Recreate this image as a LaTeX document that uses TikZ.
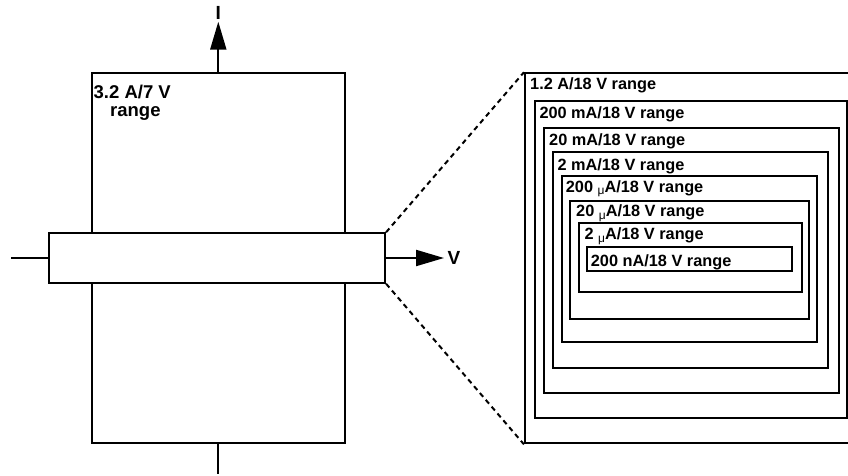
\documentclass[tikz,border=0pt]{standalone}
\usepackage{fontspec}
\setmainfont{Liberation Sans}
\usetikzlibrary{arrows.meta}
\newcommand{\mysmallmu}{\raisebox{-2.5pt}{\fontsize{12}{12}\selectfont\mdseries μ}}
\tikzset{
  box/.style={draw, line width=2.1pt, rectangle, inner sep=0pt, fill=white},
  rlabel/.style={anchor=base west, inner sep=0pt, font=\fontsize{16.3}{16}\selectfont\bfseries},
  llabel/.style={anchor=base west, inner sep=0pt, font=\fontsize{18.5}{20}\selectfont\bfseries},
  axislabel/.style={inner sep=0pt, font=\fontsize{19}{19}\selectfont\bfseries},
  wire/.style={line width=2.1pt},
  arrowwire/.style={line width=2.1pt, -{Triangle[length=28pt,width=16pt]}},
  zoomline/.style={line width=2pt, dash pattern=on 5pt off 4pt}
}
\begin{document}
\begin{tikzpicture}[x=1pt,y=-1pt]
\useasboundingbox (0,0) rectangle (848,476);
\clip (0,0) rectangle (848,476);
% left drawing
\node[box, minimum width=253.3pt, minimum height=370.6pt] (main) at (218.3,258) {};
\node[box, minimum width=335.7pt, minimum height=49.4pt] (bar) at (217.2,258) {};
\node[llabel] (mainlab1) at (93.5,98.5) {3.2 A/7 V};
\node[llabel] (mainlab2) at (110,117) {range};
\coordinate (lin) at (11,258);
\coordinate (itip) at (218.3,21.7);
\coordinate (vtip) at (444,258);
\coordinate (bot) at (218.3,474);
\node[axislabel, anchor=base] (ilab) at (218.3,20) {I};
\node[axislabel, anchor=base west] (vlab) at (447.5,264) {V};
\draw[wire] (lin) -- (bar.west);
\draw[wire] (main.south) -- (bot);
\draw[arrowwire] (main.north) -- (itip);
\draw[arrowwire] (bar.east) -- (vtip);
% right nested ranges
\node[box, minimum width=335pt, minimum height=370pt] (b1) at (692.5,258.3) {};
\node[box, minimum width=311.7pt, minimum height=317.6pt] (b2) at (690.85,259.5) {};
\node[box, minimum width=295pt, minimum height=265.6pt] (b3) at (691.5,260.5) {};
\node[box, minimum width=275pt, minimum height=216pt] (b4) at (690.8,260.3) {};
\node[box, minimum width=254.4pt, minimum height=166.3pt] (b5) at (689.5,259.15) {};
\node[box, minimum width=239pt, minimum height=118.6pt] (b6) at (689.5,260) {};
\node[box, minimum width=222.4pt, minimum height=69pt] (b7) at (690.5,257.8) {};
\node[box, minimum width=205pt, minimum height=23.4pt] (b8) at (689.8,259) {};
\node[rlabel] (t1) at (530,90) {1.2 A/18 V range};
\node[rlabel] (t2) at (539.3,118) {200 mA/18 V range};
\node[rlabel] (t3) at (549,145.5) {20 mA/18 V range};
\node[rlabel] (t4) at (557.3,170.5) {2 mA/18 V range};
\node[rlabel] (t5) at (565.7,192) {200 \mysmallmu A/18 V range};
\node[rlabel] (t6) at (576,216.5) {20 \mysmallmu A/18 V range};
\node[rlabel] (t7) at (584.3,239.5) {2 \mysmallmu A/18 V range};
\node[rlabel] (t8) at (590.7,266) {200 nA/18 V range};
% zoom lines
\draw[zoomline] (bar.north east) -- (b1.north west);
\draw[zoomline] (bar.south east) -- (b1.south west);
\end{tikzpicture}
\end{document}
